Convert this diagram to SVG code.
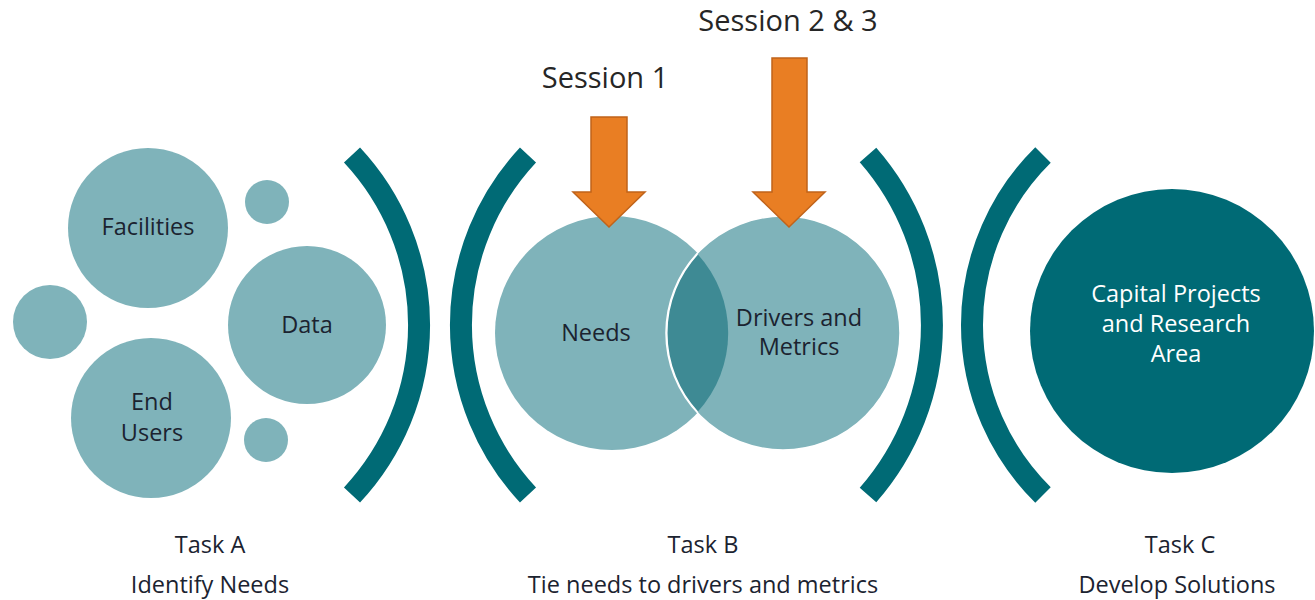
<svg xmlns="http://www.w3.org/2000/svg" width="1315" height="600" viewBox="0 0 1315 600">
<defs>
<style>
.lt{fill:#7FB3BA}
.dk{fill:#006A75}
.br{fill:none;stroke:#006A75;stroke-width:22;stroke-linecap:butt}
.lbl{font-family:"Open Sans","DejaVu Sans",sans-serif;font-size:23.5px;fill:#1B2330;text-anchor:middle}
.wl{font-family:"Open Sans","DejaVu Sans",sans-serif;font-size:23.5px;fill:#FFFFFF;text-anchor:middle}
.ses{font-family:"Open Sans","DejaVu Sans",sans-serif;font-size:29px;fill:#262626;text-anchor:middle}
.arr{fill:#E97E23;stroke:#C0631A;stroke-width:1.5}
</style>
</defs>
<rect width="1315" height="600" fill="#FFFFFF"/>

<g id="taskA">
<circle class="lt" cx="50" cy="322" r="37"/>
<circle class="lt" cx="267" cy="202" r="22"/>
<circle class="lt" cx="266" cy="440" r="22"/>
<g id="facilities"><circle class="lt" cx="148" cy="228" r="80"/><text class="lbl" x="148" y="235">Facilities</text></g>
<g id="data"><circle class="lt" cx="307" cy="325" r="79"/><text class="lbl" x="307" y="333">Data</text></g>
<g id="endusers"><circle class="lt" cx="151" cy="418" r="80"/><text class="lbl" x="152" y="410">End</text><text class="lbl" x="152" y="441">Users</text></g>
</g>

<g id="brackets">
<path class="br" d="M352,155 A249,249 0 0 1 352,495"/>
<path class="br" d="M528,155 A249,249 0 0 0 528,495"/>
<path class="br" d="M868,155 A258,258 0 0 1 868,495"/>
<path class="br" d="M1043,155 A239,239 0 0 0 1043,495"/>
</g>

<g id="taskB">
<g id="needs"><circle class="lt" cx="612" cy="333" r="117"/></g>
<g id="drivers"><circle class="lt" cx="783" cy="333" r="117" stroke="#FFFFFF" stroke-width="1.5"/></g>
<path fill="#3E8A94" d="M697.5,254 A117,117 0 0 0 697.5,412 A117,117 0 0 0 697.5,254 Z"/>
<path fill="none" stroke="#FFFFFF" stroke-width="1.5" d="M697.5,254 A117,117 0 0 0 697.5,412"/>
<text class="lbl" x="596" y="341">Needs</text>
<text class="lbl" x="799" y="326">Drivers and</text>
<text class="lbl" x="799" y="355">Metrics</text>
</g>

<g id="taskC">
<circle class="dk" cx="1172" cy="331" r="142"/>
<text class="wl" x="1176" y="302">Capital Projects</text>
<text class="wl" x="1176" y="332">and Research</text>
<text class="wl" x="1176" y="362">Area</text>
</g>

<g id="connectors">
<path class="arr" d="M591,117 L627,117 L627,192 L645,192 L609,227 L573,192 L591,192 Z"/>
<path class="arr" d="M772,58 L807,58 L807,192 L825,192 L789,227 L753,192 L772,192 Z"/>
</g>

<g id="sessions">
<text class="ses" x="605" y="88">Session 1</text>
<text class="ses" x="788" y="31">Session 2 &amp; 3</text>
</g>

<g id="tasks">
<text class="lbl" x="210" y="553">Task A</text>
<text class="lbl" x="210" y="593">Identify Needs</text>
<text class="lbl" x="703" y="553">Task B</text>
<text class="lbl" x="703" y="593">Tie needs to drivers and metrics</text>
<text class="lbl" x="1180" y="553">Task C</text>
<text class="lbl" x="1177" y="593">Develop Solutions</text>
</g>
</svg>
